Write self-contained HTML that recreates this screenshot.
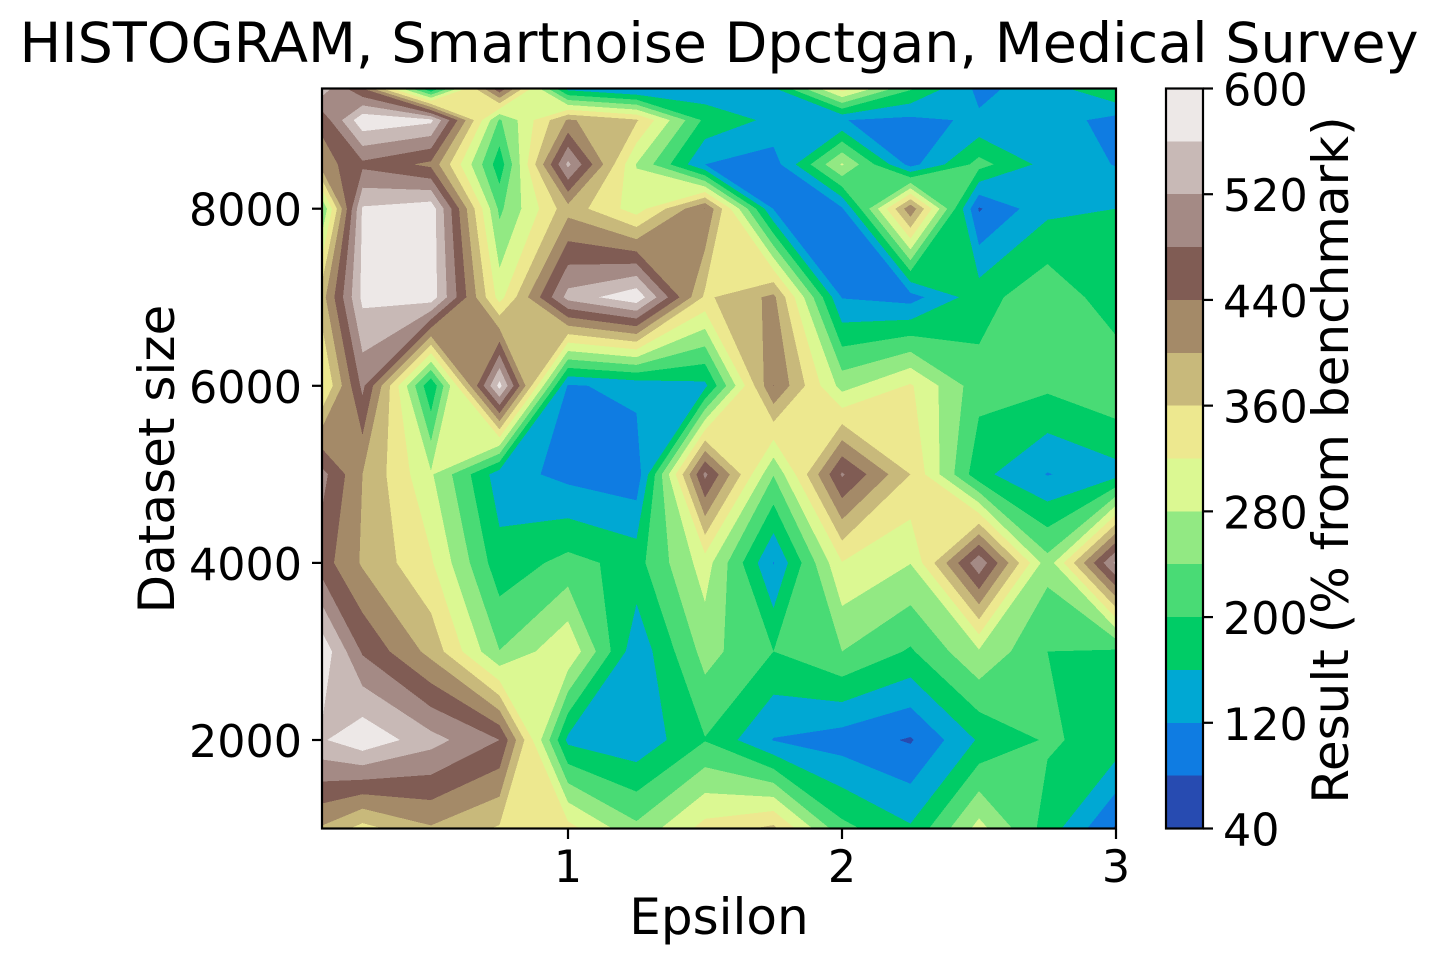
<!DOCTYPE html>
<html lang="en">
<head>
<meta charset="utf-8">
<title>HISTOGRAM, Smartnoise Dpctgan, Medical Survey</title>
<style>
html,body{margin:0;padding:0;background:#fff;width:1438px;height:964px;overflow:hidden}
svg{display:block}
text{font-family:"DejaVu Sans","Liberation Sans",sans-serif;fill:#000}
</style>
</head>
<body>
<svg id="chart" xmlns="http://www.w3.org/2000/svg" width="1438" height="964" viewBox="0 0 1438 964">
  <rect x="0" y="0" width="1438" height="964" fill="#fff"/>
  <text x="719" y="62" font-size="55.55" text-anchor="middle">HISTOGRAM, Smartnoise Dpctgan, Medical Survey</text>
  <g id="bands" shape-rendering="crispEdges"></g>
  <rect x="322" y="88.5" width="794" height="740" fill="none" stroke="#000" stroke-width="2.2"/>
  <g id="x-axis"></g>
  <g id="y-axis"></g>
  <text x="719" y="934" font-size="50" text-anchor="middle">Epsilon</text>
  <text x="0" y="0" font-size="50" text-anchor="middle" transform="translate(174 459) rotate(-90)">Dataset size</text>
  <g id="colorbar" shape-rendering="crispEdges"></g>
  <rect x="1166" y="88.5" width="37" height="740" fill="none" stroke="#000" stroke-width="2.2"/>
  <g id="colorbar-axis"></g>
  <text x="0" y="0" font-size="50" text-anchor="middle" transform="translate(1348 460) rotate(-90)">Result (% from benchmark)</text>
</svg>
<script>
const epsilonValues = [0.1, 0.25, 0.5, 0.75, 1, 1.25, 1.5, 1.75, 2, 2.25, 2.5, 2.75, 3];
const sizeValues = [9358, 9000, 8500, 8000, 7000, 6000, 5000, 4000, 3000, 2000, 1000];
const results9358 = [545, 440, 160, 470, 145, 110, 130, 155, 340, 205, 110, 140, 205];
const results9000 = [450, 590, 570, 235, 405, 365, 190, 150, 121, 110, 126, 140, 105];
const results8500 = [420, 470, 430, 175, 530, 278, 120, 100, 285, 105, 215, 145, 118];
const results8000 = [235, 565, 585, 231, 385, 300, 441, 118, 115, 430, 76, 150, 160];
const results7000 = [380, 570, 585, 304, 535, 590, 352, 410, 118, 104, 183, 230, 175];
const results6000 = [310, 490, 165, 575, 115, 132, 150, 441, 265, 325, 215, 208, 233];
const results5000 = [495, 400, 285, 138, 108, 93, 490, 242, 485, 360, 172, 118, 145];
const results4000 = [460, 395, 325, 175, 213, 185, 300, 118, 318, 281, 510, 255, 530];
const results3000 = [590, 475, 387, 241, 315, 131, 255, 200, 240, 195, 275, 200, 193];
const results2000 = [555, 590, 535, 480, 150, 130, 198, 118, 100, 76, 165, 205, 185];
const results1000 = [395, 345, 395, 355, 335, 250, 335, 370, 212, 165, 295, 182, 75];
const resultRows = [results9358, results9000, results8500, results8000, results7000, results6000, results5000, results4000, results3000, results2000, results1000];
const contourLevels = [40, 80, 120, 160, 200, 240, 280, 320, 360, 400, 440, 480, 520, 560, 600];
const xTickValues = [1, 2, 3];
const yTickValues = [2000, 4000, 6000, 8000];
const colorbarTickValues = [40, 120, 200, 280, 360, 440, 520, 600];

const SVG_NS = 'http://www.w3.org/2000/svg';
function xScale(e) { return 568 + (e - 1) * 274; }
function yScale(s) { return 740 - (s - 2000) * 0.08855; }
function cbarScale(v) { return 828.5 - (v - 40) * (740 / 560); }

function terrain(t) {
  const stops = [[0, .2, .2, .6], [.15, 0, .6, 1], [.25, 0, .8, .4], [.5, 1, 1, .6], [.75, .5, .36, .33], [1, 1, 1, 1]];
  for (let i = 1; i < stops.length; i++) {
    if (t <= stops[i][0]) {
      const a = stops[i - 1], b = stops[i], f = (t - a[0]) / (b[0] - a[0]);
      const c = [1, 2, 3].map(k => Math.round((a[k] + (b[k] - a[k]) * f) * 255));
      return 'rgb(' + c.join(',') + ')';
    }
  }
  return '#fff';
}

function clipAbove(poly, level) {
  const out = [];
  for (let i = 0; i < poly.length; i++) {
    const p = poly[i], q = poly[(i + 1) % poly.length];
    const pin = p[2] >= level;
    const qin = q[2] >= level;
    if (pin) out.push(p);
    if (pin !== qin) {
      const f = (level - p[2]) / (q[2] - p[2]);
      out.push([p[0] + (q[0] - p[0]) * f, p[1] + (q[1] - p[1]) * f, level]);
    }
  }
  return out;
}
function isSaddle(c, L) {
  const s = c.map(p => p[2] >= L);
  return s[0] !== s[1] && s[1] !== s[2] && s[2] !== s[3];
}
function polyPath(poly) {
  if (poly.length < 3) return '';
  return 'M' + poly.map(p => p[0].toFixed(2) + ' ' + p[1].toFixed(2)).join('L') + 'Z';
}
// Region where result >= level, painted low to high so each level's contour is independent.
function regionPath(level) {
  let d = '';
  for (let r = 0; r < sizeValues.length - 1; r++) {
    for (let c = 0; c < epsilonValues.length - 1; c++) {
      const x0 = xScale(epsilonValues[c]), x1 = xScale(epsilonValues[c + 1]);
      const y0 = yScale(sizeValues[r]), y1 = yScale(sizeValues[r + 1]);
      const quad = [
        [x0, y0, resultRows[r][c]],
        [x1, y0, resultRows[r][c + 1]],
        [x1, y1, resultRows[r + 1][c + 1]],
        [x0, y1, resultRows[r + 1][c]]
      ];
      const mean = (quad[0][2] + quad[1][2] + quad[2][2] + quad[3][2]) / 4;
      if (isSaddle(quad, level) && mean < level) {
        quad.forEach((corner, i) => {
          if (corner[2] >= level) {
            d += polyPath(clipAbove([quad[(i + 3) % 4], corner, quad[(i + 1) % 4]], level));
          }
        });
      } else {
        d += polyPath(clipAbove(quad, level));
      }
    }
  }
  return d;
}

const bandsGroup = document.getElementById('bands');
const colorbarGroup = document.getElementById('colorbar');
for (let i = 0; i < contourLevels.length - 1; i++) {
  const lo = contourLevels[i], hi = contourLevels[i + 1];
  const color = terrain((i + 0.5) / (contourLevels.length - 1));
  const path = document.createElementNS(SVG_NS, 'path');
  path.setAttribute('d', regionPath(lo));
  path.setAttribute('fill', color);
  
  
  bandsGroup.appendChild(path);
  const swatch = document.createElementNS(SVG_NS, 'rect');
  swatch.setAttribute('x', 1166);
  swatch.setAttribute('width', 37);
  swatch.setAttribute('y', cbarScale(hi));
  swatch.setAttribute('height', cbarScale(lo) - cbarScale(hi));
  swatch.setAttribute('fill', color);
  
  
  colorbarGroup.appendChild(swatch);
}

function addLine(parent, x1, y1, x2, y2) {
  const l = document.createElementNS(SVG_NS, 'line');
  l.setAttribute('x1', x1);
  l.setAttribute('y1', y1);
  l.setAttribute('x2', x2);
  l.setAttribute('y2', y2);
  l.setAttribute('stroke', '#000');
  l.setAttribute('stroke-width', 2.2);
  parent.appendChild(l);
  return l;
}
function addText(parent, x, y, str, anchor) {
  const t = document.createElementNS(SVG_NS, 'text');
  t.setAttribute('x', x);
  t.setAttribute('y', y);
  t.setAttribute('font-size', 44.4);
  t.setAttribute('text-anchor', anchor);
  t.textContent = str;
  parent.appendChild(t);
  return t;
}

const xAxis = document.getElementById('x-axis');
xTickValues.forEach(v => {
  const px = xScale(v);
  const mark = addLine(xAxis, px, 829, px, 839);
  
  
  const label = addText(xAxis, px, 882, String(v), 'middle');
  
  
});
const yAxis = document.getElementById('y-axis');
yTickValues.forEach(v => {
  const py = yScale(v);
  const mark = addLine(yAxis, 322, py, 312, py);
  
  
  const label = addText(yAxis, 302, py + 17, String(v), 'end');
  
  
});
const cbarAxis = document.getElementById('colorbar-axis');
colorbarTickValues.forEach(v => {
  const py = cbarScale(v);
  const mark = addLine(cbarAxis, 1203, py, 1213, py);
  
  
  const label = addText(cbarAxis, 1223, py + 17, String(v), 'start');
  
  
});
</script>
</body>
</html>
